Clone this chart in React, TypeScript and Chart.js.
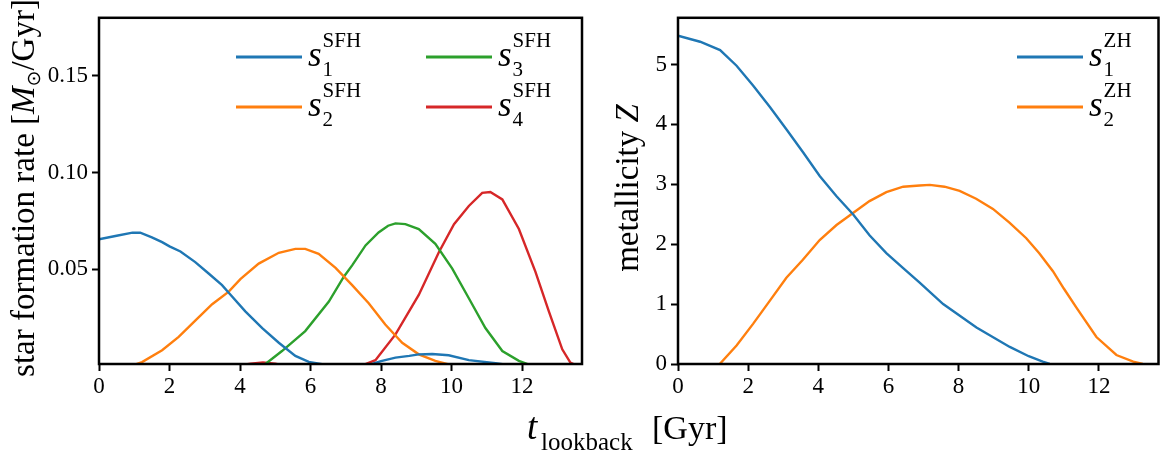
import React, { useEffect, useRef } from "react";
import { Chart, registerables } from "chart.js";

Chart.register(...registerables);

// ---------- axes ----------
const T_MIN = 0;
const T_MAX = 13.7;
const T_TICKS = [0, 2, 4, 6, 8, 10, 12];
const SFR_MIN = 0.001;
const SFR_MAX = 0.18;
const SFR_TICKS = [0.05, 0.1, 0.15];
const Z_MIN = 0;
const Z_MAX = 5.78;
const Z_TICKS = [0, 1, 2, 3, 4, 5];

const COLORS = ["#1f77b4", "#ff7f0e", "#2ca02c", "#d62728"];

// ---------- star formation histories (left panel) ----------
const sfh1T = [0, 0.5, 0.95, 1.17, 1.5, 1.79, 2.0, 2.31, 2.73, 3.11, 3.49, 3.68, 4.15, 4.63, 5.1, 5.57, 5.95, 6.33, 6.8, 7.5, 7.75, 8.0, 8.41, 8.8, 9.07, 9.45, 9.92, 10.49, 11.25, 11.6, 12.5, 13.7];
const sfh1V = [0.0655, 0.0673, 0.0689, 0.0689, 0.0665, 0.064, 0.0618, 0.0592, 0.0537, 0.0478, 0.0418, 0.0378, 0.0282, 0.0196, 0.012, 0.0052, 0.0021, 0.0009, 0.0003, 0.0002, 0.001, 0.0025, 0.0043, 0.0052, 0.006, 0.0062, 0.0055, 0.003, 0.0014, 0.0005, 0, 0];

const sfh2T = [0, 0.84, 1.0, 1.22, 1.79, 2.26, 2.73, 3.21, 3.68, 4.01, 4.53, 5.1, 5.57, 5.85, 6.23, 6.71, 7.18, 7.65, 8.12, 8.6, 9.07, 9.54, 9.92, 10.3, 13.7];
const sfh2V = [0, 0, 0.0005, 0.002, 0.0081, 0.015, 0.0234, 0.0319, 0.0384, 0.0449, 0.0529, 0.0585, 0.0605, 0.0605, 0.058, 0.0507, 0.0418, 0.0324, 0.0214, 0.012, 0.006, 0.0026, 0.0008, 0, 0];

const sfh3T = [0, 4.5, 4.72, 5.19, 5.85, 6.52, 6.94, 7.18, 7.56, 7.93, 8.2, 8.41, 8.69, 9.07, 9.54, 10.02, 10.49, 10.96, 11.44, 11.91, 12.25, 13.7];
const sfh3V = [0, 0, 0.001, 0.0077, 0.018, 0.0333, 0.046, 0.052, 0.0623, 0.069, 0.0725, 0.0737, 0.0733, 0.0708, 0.0631, 0.0503, 0.035, 0.0196, 0.0077, 0.0026, 0.0003, 0];

const sfh4T = [0, 3.9, 4.3, 4.65, 5.0, 5.3, 7.45, 7.56, 7.84, 8.41, 9.07, 9.64, 10.07, 10.49, 10.87, 11.1, 11.44, 11.91, 12.38, 12.76, 13.14, 13.37, 13.57, 13.7];
const sfh4V = [0, 0, 0.0012, 0.0018, 0.0012, 0, 0, 0.001, 0.003, 0.0163, 0.0367, 0.0588, 0.0733, 0.0827, 0.0895, 0.0899, 0.0861, 0.0708, 0.0486, 0.0282, 0.0086, 0.0017, 0, 0];

const SFH_SUBS = ["1", "2", "3", "4"];
const SFH_SUP = "SFH";

// ---------- metallicity histories (right panel) ----------
const zh1T = [0, 0.63, 1.2, 1.67, 2.14, 2.62, 3.1, 3.57, 4.04, 4.52, 4.99, 5.46, 5.94, 6.42, 6.89, 7.56, 8.51, 9.46, 10.0, 10.4, 10.6];
const zh1V = [5.48, 5.38, 5.24, 4.98, 4.65, 4.29, 3.91, 3.53, 3.14, 2.8, 2.5, 2.15, 1.85, 1.6, 1.36, 1.0, 0.61, 0.285, 0.13, 0.04, 0];

const zh2T = [1.19, 1.67, 2.14, 2.61, 3.09, 3.56, 4.04, 4.52, 4.99, 5.46, 5.94, 6.42, 6.89, 7.18, 7.6, 8.03, 8.5, 8.98, 9.45, 9.93, 10.3, 10.69, 11.0, 11.36, 11.93, 12.5, 12.98, 13.25];
const zh2V = [0, 0.31, 0.67, 1.05, 1.44, 1.74, 2.07, 2.32, 2.52, 2.72, 2.87, 2.96, 2.98, 2.99, 2.96, 2.89, 2.76, 2.59, 2.36, 2.1, 1.85, 1.55, 1.26, 0.94, 0.45, 0.15, 0.04, 0];

const ZH_SUBS = ["1", "2"];
const ZH_SUP = "ZH";

// ---------- styling ----------
const SERIF = '"Liberation Serif", "Times New Roman", serif';
const TICK_FONT = { family: SERIF, size: 23 };

type Part = { text: string; font: string; dy?: number };
type LegendItem = { x: number; y: number; color: string; sub: string; sup: string };

function pairs(t: number[], v: number[]) {
  return t.map((x, i) => ({ x, y: v[i] }));
}

function makeDataset(t: number[], v: number[], color: string) {
  return {
    data: pairs(t, v),
    borderColor: color,
    backgroundColor: color,
    borderWidth: 2.4,
    pointRadius: 0,
    tension: 0,
    fill: false,
    clip: 0,
  };
}

function decorPlugin(title: Part[], titleX: number, titleY: number, legend: LegendItem[]) {
  return {
    id: "decor",
    afterDatasetsDraw(chart: any) {
      const { ctx, chartArea: a } = chart;
      ctx.save();
      ctx.strokeStyle = "#000";
      ctx.lineWidth = 2.5;
      ctx.strokeRect(a.left, a.top, a.right - a.left, a.bottom - a.top);
      ctx.restore();
    },
    afterDraw(chart: any) {
      const ctx = chart.ctx as CanvasRenderingContext2D;
      // rotated y-axis title
      ctx.save();
      ctx.fillStyle = "#000";
      ctx.textAlign = "left";
      ctx.textBaseline = "alphabetic";
      ctx.translate(titleX, titleY);
      ctx.rotate(-Math.PI / 2);
      let total = 0;
      for (const p of title) {
        ctx.font = p.font;
        total += ctx.measureText(p.text).width;
      }
      let x = -total / 2;
      for (const p of title) {
        ctx.font = p.font;
        ctx.fillText(p.text, x, p.dy || 0);
        x += ctx.measureText(p.text).width;
      }
      ctx.restore();

      // legend
      for (const it of legend) {
        ctx.save();
        ctx.strokeStyle = it.color;
        ctx.lineWidth = 3;
        ctx.lineCap = "butt";
        ctx.beginPath();
        ctx.moveTo(it.x, it.y);
        ctx.lineTo(it.x + 66, it.y);
        ctx.stroke();
        ctx.fillStyle = "#000";
        ctx.textAlign = "left";
        ctx.textBaseline = "alphabetic";
        const sx = it.x + 72;
        const base = it.y + 9;
        ctx.font = `italic 35px ${SERIF}`;
        ctx.fillText("s", sx, base);
        const w = ctx.measureText("s").width;
        ctx.font = `21px ${SERIF}`;
        ctx.fillText(it.sup, sx + w + 1, base - 19);
        ctx.fillText(it.sub, sx + w + 1, base + 10);
        ctx.restore();
      }
    },
  };
}

function buildConfig(opts: {
  datasets: any[];
  yMin: number;
  yMax: number;
  yTicks: number[];
  yFmt: (v: number) => string;
  yWidth: number;
  padRight: number;
  plugin: any;
}) {
  return {
    type: "line",
    data: { datasets: opts.datasets },
    options: {
      responsive: false,
      maintainAspectRatio: false,
      animation: false,
      events: [],
      layout: { padding: { left: 0, right: opts.padRight, top: 12, bottom: 0 } },
      plugins: { legend: { display: false }, tooltip: { enabled: false }, title: { display: false } },
      scales: {
        x: {
          type: "linear",
          min: T_MIN,
          max: T_MAX,
          afterBuildTicks: (s: any) => {
            s.ticks = T_TICKS.map((v) => ({ value: v }));
          },
          afterFit: (s: any) => {
            s.height = 460 - 364;
          },
          ticks: {
            font: TICK_FONT,
            color: "#000",
            padding: 2,
            maxRotation: 0,
            autoSkip: false,
            callback: (v: any) => String(v),
          },
          grid: { display: true, drawOnChartArea: false, drawTicks: true, tickLength: 7, tickWidth: 2, tickColor: "#000" },
          border: { display: false },
        },
        y: {
          type: "linear",
          min: opts.yMin,
          max: opts.yMax,
          afterBuildTicks: (s: any) => {
            s.ticks = opts.yTicks.map((v) => ({ value: v }));
          },
          afterFit: (s: any) => {
            s.width = opts.yWidth;
          },
          ticks: {
            font: TICK_FONT,
            color: "#000",
            padding: 4,
            autoSkip: false,
            callback: (v: any) => opts.yFmt(Number(v)),
          },
          grid: { display: true, drawOnChartArea: false, drawTicks: true, tickLength: 7, tickWidth: 2, tickColor: "#000" },
          border: { display: false },
        },
      },
    },
    plugins: [opts.plugin],
  } as any;
}

export default function App() {
  const leftRef = useRef<HTMLCanvasElement | null>(null);
  const rightRef = useRef<HTMLCanvasElement | null>(null);

  useEffect(() => {
    const sfhT = [sfh1T, sfh2T, sfh3T, sfh4T];
    const sfhV = [sfh1V, sfh2V, sfh3V, sfh4V];
    const leftDatasets = sfhT.map((t, i) => makeDataset(t, sfhV[i], COLORS[i]));
    const leftLegend: LegendItem[] = [
      { x: 236, y: 57, color: COLORS[0], sub: SFH_SUBS[0], sup: SFH_SUP },
      { x: 236, y: 107, color: COLORS[1], sub: SFH_SUBS[1], sup: SFH_SUP },
      { x: 426, y: 57, color: COLORS[2], sub: SFH_SUBS[2], sup: SFH_SUP },
      { x: 426, y: 107, color: COLORS[3], sub: SFH_SUBS[3], sup: SFH_SUP },
    ];
    const leftTitle: Part[] = [
      { text: "star formation rate [", font: `33px ${SERIF}` },
      { text: "M", font: `italic 33px ${SERIF}` },
      { text: "\u2299", font: `19px "DejaVu Sans"`, dy: 6 },
      { text: "/Gyr]", font: `33px ${SERIF}` },
    ];
    const left = new Chart(
      leftRef.current as HTMLCanvasElement,
      buildConfig({
        datasets: leftDatasets,
        yMin: SFR_MIN,
        yMax: SFR_MAX,
        yTicks: SFR_TICKS,
        yFmt: (v) => v.toFixed(2),
        yWidth: 99,
        padRight: 18,
        plugin: decorPlugin(leftTitle, 34, 188, leftLegend),
      })
    );

    const zhT = [zh1T, zh2T];
    const zhV = [zh1V, zh2V];
    const rightDatasets = zhT.map((t, i) => makeDataset(t, zhV[i], COLORS[i]));
    const rightLegend: LegendItem[] = [
      { x: 417, y: 57, color: COLORS[0], sub: ZH_SUBS[0], sup: ZH_SUP },
      { x: 417, y: 107, color: COLORS[1], sub: ZH_SUBS[1], sup: ZH_SUP },
    ];
    const rightTitle: Part[] = [
      { text: "metallicity ", font: `33px ${SERIF}` },
      { text: "Z", font: `italic 33px ${SERIF}` },
    ];
    const right = new Chart(
      rightRef.current as HTMLCanvasElement,
      buildConfig({
        datasets: rightDatasets,
        yMin: Z_MIN,
        yMax: Z_MAX,
        yTicks: Z_TICKS,
        yFmt: (v) => String(v),
        yWidth: 78,
        padRight: 1.5,
        plugin: decorPlugin(rightTitle, 38, 188, rightLegend),
      })
    );

    return () => {
      left.destroy();
      right.destroy();
    };
  }, []);

  const span = (left: number, top: number, size: number, italic: boolean) =>
    ({
      position: "absolute",
      left,
      top,
      fontFamily: SERIF,
      fontSize: size,
      fontStyle: italic ? "italic" : "normal",
      lineHeight: 1,
      whiteSpace: "nowrap",
      color: "#000",
    } as React.CSSProperties);

  return (
    <div style={{ position: "fixed", left: 0, top: 0, width: 1160, height: 460, background: "#fff", overflow: "hidden" }}>
      <canvas ref={leftRef} width={600} height={460} style={{ position: "absolute", left: 0, top: 0, width: 600, height: 460 }} />
      <canvas ref={rightRef} width={560} height={460} style={{ position: "absolute", left: 600, top: 0, width: 560, height: 460 }} />
      <span style={span(527, 408, 37, true)}>t</span>
      <span style={span(541, 428.6, 25, false)}>lookback</span>
      <span style={span(652, 410.5, 34, false)}>[Gyr]</span>
    </div>
  );
}
